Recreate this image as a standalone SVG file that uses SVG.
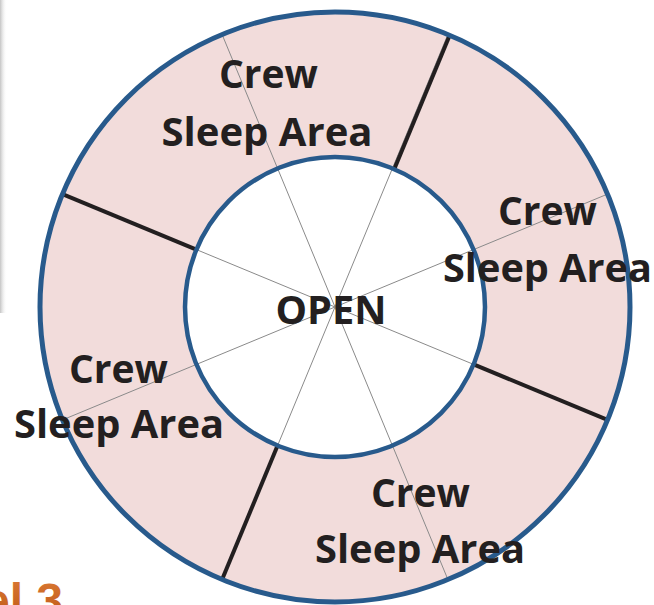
<svg xmlns="http://www.w3.org/2000/svg" width="654" height="605" viewBox="0 0 654 605">
  <defs>
    <linearGradient id="shadow" x1="0" y1="0" x2="1" y2="0">
      <stop offset="0" stop-color="#c4c4c4"/>
      <stop offset="1" stop-color="#ffffff" stop-opacity="0"/>
    </linearGradient>
    <linearGradient id="orange" x1="0" y1="0" x2="0" y2="1">
      <stop offset="0" stop-color="#DC7A36"/>
      <stop offset="1" stop-color="#B9530F"/>
    </linearGradient>
    <style>
      .lbl { font-family: "Open Sans", "Liberation Sans", sans-serif; font-weight: 700; font-size: 40px; fill: #231F20; text-anchor: middle; }
      .ring { fill: #F2DCDB; stroke: none; }
      .edge { fill: none; stroke: #285A8C; }
      .guide { stroke: #8a8a8a; stroke-width: 1; fill: none; }
      .wall { stroke: #231F20; stroke-width: 4; stroke-linecap: butt; fill: none; }
    </style>
  </defs>
  <rect width="654" height="605" fill="#ffffff"/>
  <rect x="0" y="0" width="7" height="313" fill="url(#shadow)"/>
  <text x="-17" y="617" font-family="'Liberation Sans', Arial, sans-serif" font-weight="700" font-size="48" fill="url(#orange)">el 3</text>

  <g id="ring">
    <circle class="ring" cx="335" cy="307" r="295"/>
  </g>
  <g id="open-core">
    <circle cx="335" cy="307" r="150" fill="#ffffff"/>
  </g>

  <g id="connectors">
    <line class="guide" x1="607.5" y1="419.9" x2="62.5" y2="194.1"/>
    <line class="guide" x1="447.9" y1="579.5" x2="222.1" y2="34.5"/>
    <line class="guide" x1="222.1" y1="579.5" x2="447.9" y2="34.5"/>
    <line class="guide" x1="62.5" y1="419.9" x2="607.5" y2="194.1"/>
    <line class="wall" x1="394.2" y1="169.2" x2="449.7" y2="35.3"/>
    <line class="wall" x1="196.4" y1="249.6" x2="62.5" y2="194.1"/>
    <line class="wall" x1="473.6" y1="364.4" x2="607.5" y2="419.9"/>
    <line class="wall" x1="277.6" y1="445.6" x2="222.1" y2="579.5"/>
  </g>

  <g id="outlines">
    <circle class="edge" cx="335" cy="307" r="295" stroke-width="5"/>
    <circle class="edge" cx="335" cy="307" r="150" stroke-width="4.5"/>
  </g>

  <g id="open">
    <text class="lbl" x="331" y="324" textLength="111" lengthAdjust="spacingAndGlyphs">OPEN</text>
  </g>
  <g id="crew-top">
    <text class="lbl" x="268.5" y="88" textLength="99" lengthAdjust="spacingAndGlyphs">Crew</text>
    <text class="lbl" x="267" y="146" textLength="211" lengthAdjust="spacingAndGlyphs">Sleep Area</text>
  </g>
  <g id="crew-right">
    <text class="lbl" x="547.5" y="225" textLength="99" lengthAdjust="spacingAndGlyphs">Crew</text>
    <text class="lbl" x="547.5" y="282" textLength="209" lengthAdjust="spacingAndGlyphs">Sleep Area</text>
  </g>
  <g id="crew-left">
    <text class="lbl" x="118.5" y="383" textLength="99" lengthAdjust="spacingAndGlyphs">Crew</text>
    <text class="lbl" x="119" y="438" textLength="210" lengthAdjust="spacingAndGlyphs">Sleep Area</text>
  </g>
  <g id="crew-bottom">
    <text class="lbl" x="420.5" y="507" textLength="99" lengthAdjust="spacingAndGlyphs">Crew</text>
    <text class="lbl" x="420" y="563" textLength="210" lengthAdjust="spacingAndGlyphs">Sleep Area</text>
  </g>
</svg>
